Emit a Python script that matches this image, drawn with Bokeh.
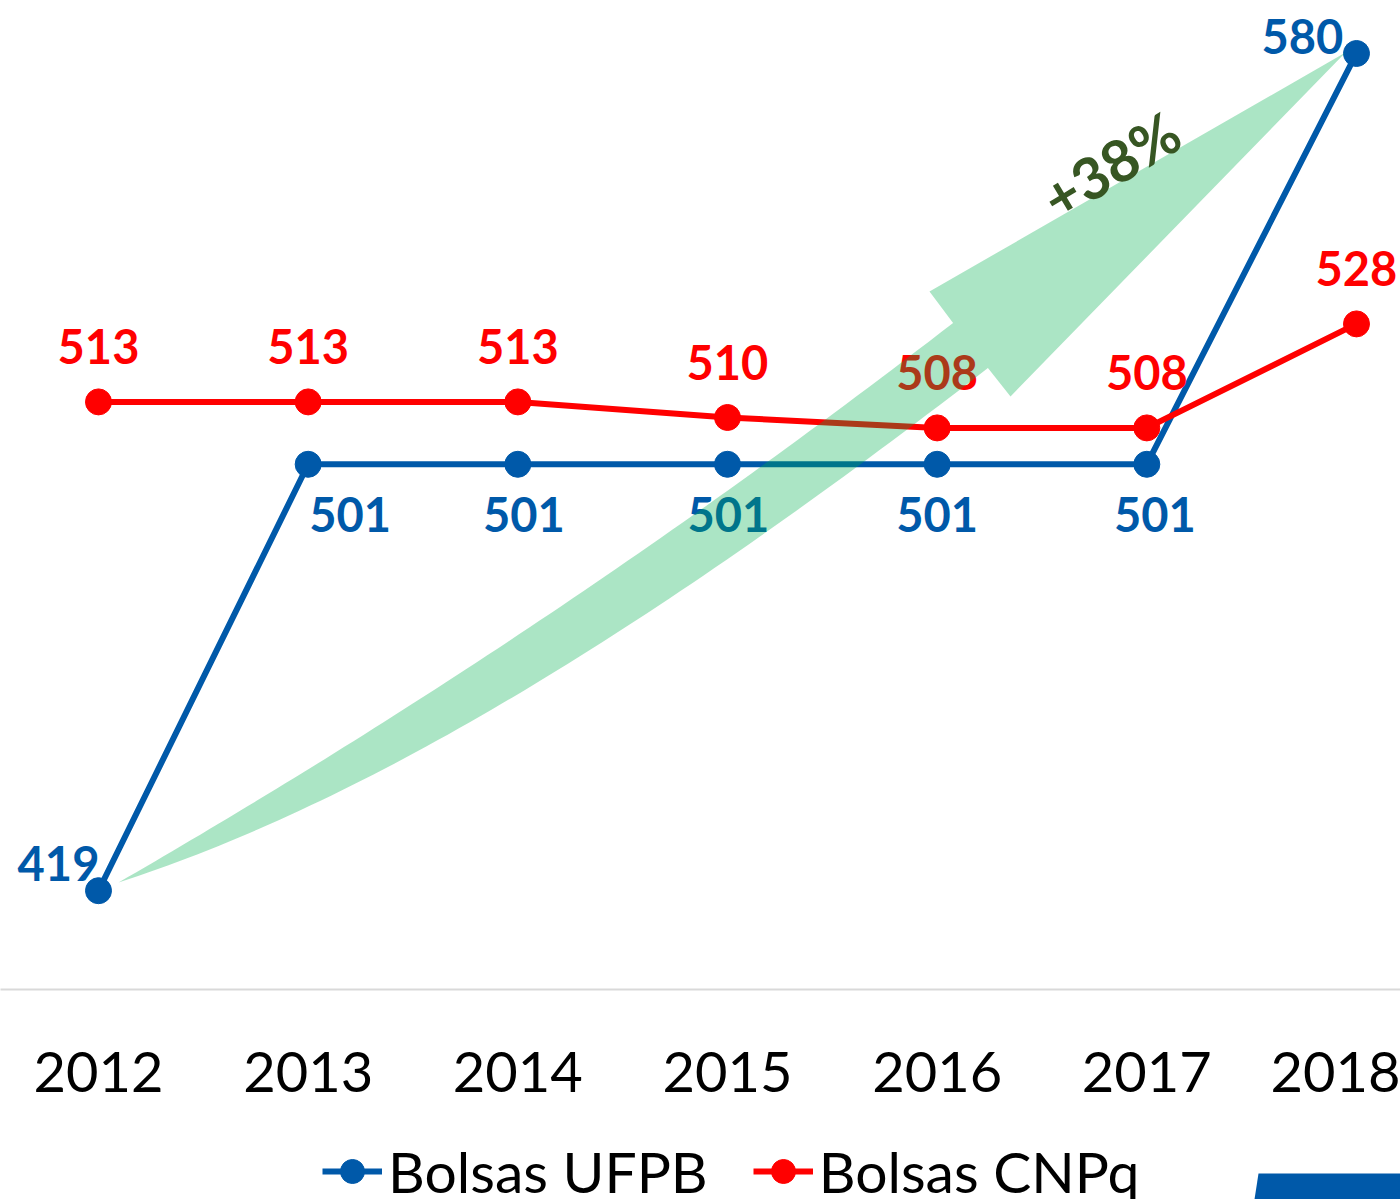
import numpy as np
from bokeh.plotting import figure
from bokeh.layouts import column
from bokeh.models import Range1d, FixedTicker, Legend, LegendItem, ColumnDataSource
from bokeh.core.properties import value
from bokeh.embed import file_html
from bokeh.resources import INLINE

# ---- data ----
years = [2012, 2013, 2014, 2015, 2016, 2017, 2018]
year_labels = ["2012", "2013", "2014", "2015", "2016", "2017", "2018"]
bolsas_ufpb = [419, 501, 501, 501, 501, 501, 580]
bolsas_cnpq = [513, 513, 513, 510, 508, 508, 528]
series_names = ["Bolsas UFPB", "Bolsas CNPq"]
growth_label = "+38%"

# ---- style ----
BLUE = "#0059A9"
RED = "#FF0000"
GREEN = "#00B050"
DARK_GREEN = "#375623"
FONT = "Lato"

W, H = 1400, 1199
H_TOP = 1125
FRAME_H = 989
X0, X1 = 2011.5326, 2018.2099
Y0, Y1 = 400.0, 590.19

# label offsets (screen px) per point
ufpb_dx = [-40, 42, 6, 1, 0, 8, -54]
ufpb_dy = [-27, 50, 50, 50, 50, 50, -17]
cnpq_dx = [0, 0, 0, 0, 0, 0, 0]
cnpq_dy = [-55, -55, -55, -55, -55, -55, -55]

p = figure(width=W, height=H_TOP,
           x_range=Range1d(X0, X1), y_range=Range1d(Y0, Y1),
           output_backend="svg", toolbar_location=None,
           y_axis_location=None,
           min_border_left=0, min_border_right=0,
           min_border_top=0, min_border_bottom=H_TOP - FRAME_H,
           outline_line_color=None,
           background_fill_color="white", border_fill_color="white")
p.xgrid.visible = False
p.ygrid.visible = False

ax = p.xaxis[0]
ax.ticker = FixedTicker(ticks=years)
ax.major_label_overrides = {y: l for y, l in zip(years, year_labels)}
ax.axis_line_color = "#D9D9D9"
ax.axis_line_width = 2
ax.major_tick_line_color = None
ax.major_tick_out = 0
ax.minor_tick_line_color = None
ax.major_label_text_font = FONT
ax.major_label_text_font_size = "56px"
ax.major_label_text_color = "black"
ax.major_label_standoff = 62

src_u = ColumnDataSource(dict(x=years, y=bolsas_ufpb,
                              t=[str(v) for v in bolsas_ufpb],
                              dx=ufpb_dx, dy=ufpb_dy))
src_c = ColumnDataSource(dict(x=years, y=bolsas_cnpq,
                              t=[str(v) for v in bolsas_cnpq],
                              dx=cnpq_dx, dy=cnpq_dy))

p.line("x", "y", source=src_u, line_color=BLUE, line_width=6)
p.scatter("x", "y", source=src_u, size=26, fill_color=BLUE, line_color=BLUE)
p.line("x", "y", source=src_c, line_color=RED, line_width=6)
p.scatter("x", "y", source=src_c, size=26, fill_color=RED, line_color=RED)

for src, col in ((src_u, BLUE), (src_c, RED)):
    p.text("x", "y", text="t", source=src, x_offset="dx", y_offset="dy",
           text_font=value(FONT), text_font_style="bold",
           text_font_size="47px", text_color=col,
           text_align="center", text_baseline="middle")

# ---- curved growth arrow (decoration, screen-pixel geometry) ----
def to_x(X):
    return X0 + X / W * (X1 - X0)

def to_y(Y):
    return Y1 - Y / FRAME_H * (Y1 - Y0)

P0 = np.array([118.0, 882.0])
C = np.array([487.0, 718.0])
P2 = np.array([970.0, 345.0])
u = np.linspace(0, 1, 80)[:, None]
B = (1 - u) ** 2 * P0 + 2 * u * (1 - u) * C + u ** 2 * P2
T = 2 * (1 - u) * (C - P0) + 2 * u * (P2 - C)
T = T / np.linalg.norm(T, axis=1)[:, None]
N = np.column_stack([-T[:, 1], T[:, 0]])
w = 57 * (1 - (1 - u) ** 3)
upper = B - N * w / 2
lower = B + N * w / 2
head = np.array([[929.0, 291.0], [1345.0, 52.0], [1010.0, 396.0]])
poly = np.vstack([upper, head, lower[::-1]])
p.patch([to_x(X) for X in poly[:, 0]], [to_y(Y) for Y in poly[:, 1]],
        fill_color=GREEN, fill_alpha=0.33, line_color=None)

p.text(x=[to_x(1110)], y=[to_y(164)], text=[growth_label],
       angle=31, angle_units="deg",
       text_font=value(FONT), text_font_style="bold",
       text_font_size="58px", text_color=DARK_GREEN,
       text_align="center", text_baseline="middle")

# ---- legend strip ----
H_BOT = H - H_TOP
p2 = figure(width=W, height=H_BOT, x_range=Range1d(0, W), y_range=Range1d(0, H_BOT),
            output_backend="svg", toolbar_location=None,
            x_axis_location=None, y_axis_location=None,
            min_border_left=0, min_border_right=0,
            min_border_top=0, min_border_bottom=0,
            outline_line_color=None,
            background_fill_color="white", border_fill_color="white")
p2.xgrid.visible = False
p2.ygrid.visible = False
# legend-only renderers (placed outside the visible range)
hidden = dict(x=[-1000, -999], y=[-1000, -1000])
lu2 = p2.line(hidden["x"], hidden["y"], line_color=BLUE, line_width=6)
su2 = p2.scatter(hidden["x"], hidden["y"], size=26, fill_color=BLUE, line_color=BLUE)
lc2 = p2.line(hidden["x"], hidden["y"], line_color=RED, line_width=6)
sc2 = p2.scatter(hidden["x"], hidden["y"], size=26, fill_color=RED, line_color=RED)

# slide footer tab fragment (bottom-right corner)
p2.patch([1258, 1400, 1400, 1254], [26, 26, 0, 0],
         fill_color="#0059A9", line_color=None)

legend = Legend(items=[LegendItem(label=series_names[0], renderers=[lu2, su2]),
                       LegendItem(label=series_names[1], renderers=[lc2, sc2])],
                orientation="horizontal", location=(322, -6),
                label_text_font=FONT, label_text_font_size="57px",
                label_text_color="black",
                glyph_width=60, glyph_height=60, label_standoff=6,
                spacing=45, padding=0, margin=0,
                border_line_color=None, background_fill_alpha=0)
p2.add_layout(legend, "center")

layout = column(p, p2, spacing=0)
open("out.html", "w").write(file_html(layout, INLINE))
